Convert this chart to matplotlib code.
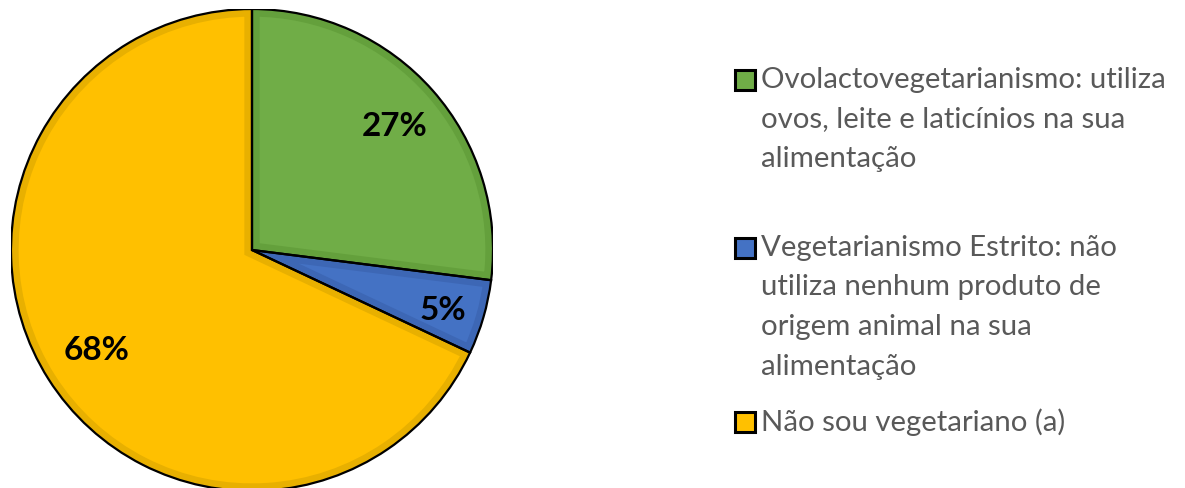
import matplotlib.pyplot as plt
from matplotlib.patches import Rectangle, Wedge

# data
shares = [27, 5, 68]
pct_labels = ["27%", "5%", "68%"]
legend_lines = [
    ["Ovolactovegetarianismo: utiliza", "ovos, leite e laticínios na sua", "alimentação"],
    ["Vegetarianismo Estrito: não", "utiliza nenhum produto de", "origem animal na sua", "alimentação"],
    ["Não sou vegetariano (a)"],
]
colors = ["#70AD47", "#4472C4", "#FFC000"]
bevel = ["#64A03C", "#3D67B5", "#E8B000"]

W, H = 1185, 488
fig = plt.figure(figsize=(W / 100, H / 100), dpi=100)
plt.rcParams["font.family"] = ["Lato", "DejaVu Sans"]

cx, cy, r = 252, 250, 241
ax = fig.add_axes([(cx - r) / W, (H - cy - r) / H, 2 * r / W, 2 * r / H])

wedges, _ = ax.pie(shares, colors=colors, startangle=90, counterclock=False,
                   radius=1, wedgeprops=dict(linewidth=0))
# darker inner rim for the bevel look, clipped to each wedge
for w, bc in zip(wedges, bevel):
    rim = Wedge(w.center, w.r, w.theta1, w.theta2, facecolor="none",
                edgecolor=bc, linewidth=11)
    ax.add_patch(rim)
    rim.set_clip_path(w)
for w in wedges:
    ax.add_patch(Wedge(w.center, w.r, w.theta1, w.theta2, facecolor="none",
                       edgecolor="black", linewidth=1.6))
ax.set_xlim(-1, 1)
ax.set_ylim(-1, 1)
ax.set_aspect("equal")
ax.axis("off")

label_pos = [(395, 127), (443, 310), (97, 350)]
for (px, py), txt in zip(label_pos, pct_labels):
    fig.text(px / W, 1 - py / H, txt, fontsize=24, fontweight="bold",
             ha="center", va="center", color="black")

entry_y = [80, 248, 422]
line_gap = 39.5
for col, lines, y0 in zip(colors, legend_lines, entry_y):
    fig.patches.append(Rectangle((735 / W, 1 - (y0 + 10) / H), 20 / W, 20 / H,
                                 transform=fig.transFigure, facecolor=col,
                                 edgecolor="black", linewidth=2.2))
    for i, ln in enumerate(lines):
        fig.text(761 / W, 1 - (y0 + i * line_gap) / H, ln, fontsize=21.2,
                 color="#595959", ha="left", va="center")

fig.savefig("out.png", dpi=100)
